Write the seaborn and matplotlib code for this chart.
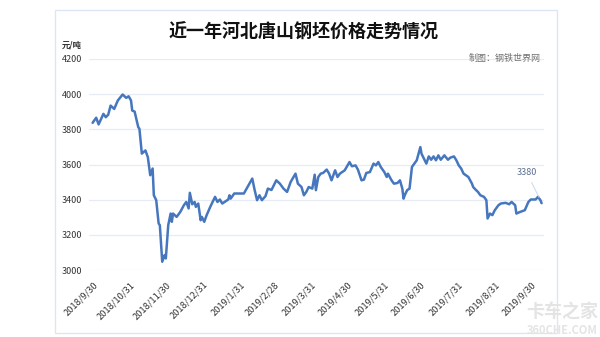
import matplotlib
matplotlib.use("Agg")
import matplotlib.pyplot as plt
import matplotlib.transforms as mtransforms
from matplotlib.patches import Rectangle
import seaborn as sns
import pandas as pd

title = "近一年河北唐山钢坯价格走势情况"
unit_label = "元/吨"
source_label = "制图：钢铁世界网"
last_label = "3380"

dates = [
    "2018-10-03", "2018-10-06", "2018-10-08", "2018-10-12", "2018-10-14", "2018-10-16",
    "2018-10-18", "2018-10-21", "2018-10-24", "2018-10-28", "2018-10-31", "2018-11-02",
    "2018-11-04", "2018-11-05", "2018-11-07", "2018-11-10", "2018-11-11", "2018-11-13",
    "2018-11-16", "2018-11-18", "2018-11-20", "2018-11-22", "2018-11-23", "2018-11-25",
    "2018-11-27", "2018-11-28", "2018-11-30", "2018-12-02", "2018-12-03", "2018-12-05",
    "2018-12-07", "2018-12-08", "2018-12-09", "2018-12-12", "2018-12-15", "2018-12-18",
    "2018-12-20", "2018-12-22", "2018-12-23", "2018-12-25", "2018-12-27", "2018-12-28",
    "2018-12-30", "2019-01-01", "2019-01-02", "2019-01-04", "2019-01-06", "2019-01-09",
    "2019-01-11", "2019-01-13", "2019-01-15", "2019-01-17", "2019-01-19", "2019-01-21",
    "2019-01-24", "2019-01-25", "2019-01-26", "2019-01-29", "2019-02-06", "2019-02-13",
    "2019-02-15", "2019-02-17", "2019-02-19", "2019-02-21", "2019-02-24", "2019-02-26",
    "2019-03-01", "2019-03-05", "2019-03-08", "2019-03-11", "2019-03-14", "2019-03-17",
    "2019-03-21", "2019-03-23", "2019-03-26", "2019-03-28", "2019-03-30", "2019-04-01",
    "2019-04-04", "2019-04-06", "2019-04-07", "2019-04-09", "2019-04-11", "2019-04-13",
    "2019-04-16", "2019-04-18", "2019-04-20", "2019-04-23", "2019-04-25", "2019-04-27",
    "2019-05-01", "2019-05-05", "2019-05-07", "2019-05-10", "2019-05-12", "2019-05-15",
    "2019-05-17", "2019-05-19", "2019-05-22", "2019-05-25", "2019-05-27", "2019-05-29",
    "2019-05-31", "2019-06-03", "2019-06-05", "2019-06-06", "2019-06-09", "2019-06-11",
    "2019-06-14", "2019-06-16", "2019-06-18", "2019-06-19", "2019-06-20", "2019-06-22",
    "2019-06-24", "2019-06-26", "2019-06-29", "2019-06-30", "2019-07-03", "2019-07-04",
    "2019-07-06", "2019-07-08", "2019-07-10", "2019-07-12", "2019-07-14", "2019-07-16",
    "2019-07-18", "2019-07-20", "2019-07-23", "2019-07-26", "2019-07-28", "2019-07-31",
    "2019-08-02", "2019-08-04", "2019-08-06", "2019-08-08", "2019-08-12", "2019-08-15",
    "2019-08-16", "2019-08-18", "2019-08-20", "2019-08-22", "2019-08-25", "2019-08-27",
    "2019-08-28", "2019-08-30", "2019-09-01", "2019-09-03", "2019-09-06", "2019-09-08",
    "2019-09-12", "2019-09-15", "2019-09-17", "2019-09-20", "2019-09-21", "2019-09-24",
    "2019-09-28", "2019-10-01", "2019-10-03", "2019-10-07", "2019-10-09", "2019-10-11",
    "2019-10-12",
]

prices = [
    3837, 3866, 3828, 3888, 3869, 3883,
    3935, 3916, 3964, 3998, 3979, 3988,
    3964, 3907, 3901, 3813, 3803, 3662,
    3680, 3642, 3539, 3577, 3425, 3397,
    3265, 3255, 3047, 3085, 3066, 3255,
    3321, 3274, 3321, 3302, 3330, 3368,
    3387, 3350, 3439, 3374, 3387, 3359,
    3378, 3283, 3302, 3274, 3312, 3359,
    3387, 3416, 3387, 3401, 3378, 3387,
    3401, 3425, 3406, 3435, 3435, 3520,
    3454, 3397, 3425, 3397, 3420, 3463,
    3455, 3510, 3491, 3463, 3444, 3501,
    3548, 3491, 3472, 3425, 3444, 3472,
    3463, 3542, 3454, 3529, 3548, 3552,
    3571, 3548, 3510, 3567, 3529, 3548,
    3567, 3614, 3590, 3595, 3571, 3510,
    3514, 3552, 3557, 3605, 3595, 3614,
    3586, 3557, 3529, 3548, 3510, 3491,
    3495, 3510, 3463, 3406, 3425, 3454,
    3463, 3586, 3614, 3624, 3699, 3661,
    3633, 3605, 3646, 3627, 3646, 3624,
    3652, 3627, 3652, 3627, 3639, 3646,
    3624, 3595, 3577, 3548, 3529, 3491,
    3472, 3457, 3444, 3425, 3416, 3397,
    3293, 3321, 3312, 3340, 3368, 3378,
    3382, 3374, 3387, 3368, 3321, 3330,
    3340, 3387, 3401, 3401, 3416, 3397,
    3380,
]

tick_dates = ["2018-09-30", "2018-10-31", "2018-11-30", "2018-12-31", "2019-01-31",
              "2019-02-28", "2019-03-31", "2019-04-30", "2019-05-31", "2019-06-30",
              "2019-07-31", "2019-08-31", "2019-09-30"]
tick_labels = ["2018/9/30", "2018/10/31", "2018/11/30", "2018/12/31", "2019/1/31",
               "2019/2/28", "2019/3/31", "2019/4/30", "2019/5/31", "2019/6/30",
               "2019/7/31", "2019/8/31", "2019/9/30"]
y_ticks = [3000, 3200, 3400, 3600, 3800, 4000, 4200]

sns.set_style("white")
plt.rcParams['font.family'] = ['Noto Sans CJK SC', 'DejaVu Sans']

df = pd.DataFrame({"date": pd.to_datetime(dates), "price": prices})

fig = plt.figure(figsize=(6.0, 3.37), dpi=100)
ax = fig.add_axes([89 / 600, (337 - 270) / 337, (544 - 89) / 600, (270 - 59) / 337])

sns.lineplot(data=df, x="date", y="price", ax=ax, color="#4677BE", linewidth=1.8)

ax.set_xlim(pd.Timestamp("2018-09-30"), pd.Timestamp("2019-10-14"))
ax.set_ylim(3000, 4200)
ax.set_yticks(y_ticks)
ax.set_yticklabels([str(v) for v in y_ticks], fontsize=6.5, color="#333333")
ax.set_xticks(pd.to_datetime(tick_dates))
ax.set_xticklabels(tick_labels, rotation=45, ha="right", rotation_mode="anchor",
                   fontsize=6.7, color="#333333")
ax.tick_params(axis="both", length=0, pad=5)
shift = mtransforms.ScaledTranslation(4 / 100, -3 / 100, fig.dpi_scale_trans)
for lbl in ax.get_xticklabels():
    lbl.set_transform(lbl.get_transform() + shift)
ax.set_xlabel("")
ax.set_ylabel("")
ax.grid(axis="y", color="#E6ECF5", linewidth=0.9)
ax.grid(axis="x", visible=False)
for s in ax.spines.values():
    s.set_visible(False)

ax.annotate(last_label, xy=(df["date"].iloc[-2], df["price"].iloc[-2]),
            xytext=(-10, 17), textcoords="offset points", ha="center", va="bottom",
            fontsize=6.5, color="#5B6F8F",
            arrowprops=dict(arrowstyle="-", color="#BFD3EA", linewidth=0.6))

fig.text(304 / 600, 1 - 32 / 337, title, ha="center", va="center",
         fontsize=13, fontweight="bold", color="#111111")
fig.text(62 / 600, 1 - 45 / 337, unit_label, ha="left", va="center",
         fontsize=6, fontweight="bold", color="#333333")
fig.text(541 / 600, 1 - 58 / 337, source_label, ha="right", va="center",
         fontsize=6.5, color="#707070")

fig.patches.append(Rectangle((55 / 600, 1 - 333 / 337), (557 - 55) / 600, (333 - 10) / 337,
                             transform=fig.transFigure, fill=False,
                             edgecolor="#DCE6F2", linewidth=1.0))

fig.text(598 / 600, 1 - 312 / 337, "卡车之家", ha="right", va="center",
         fontsize=13, fontweight="bold", color="#E4E4E4")
fig.text(598 / 600, 1 - 330 / 337, "360CHE.COM", ha="right", va="center",
         fontsize=8, fontweight="bold", color="#E4E4E4")

fig.savefig("out.png", dpi=100)
